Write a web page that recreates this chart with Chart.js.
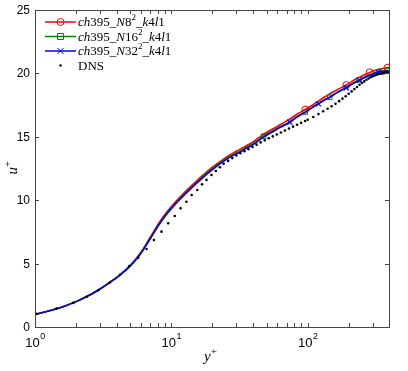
<!DOCTYPE html>
<html>
<head>
<meta charset="utf-8">
<script src="https://cdn.jsdelivr.net/npm/chart.js@4"></script>
<style>
body { margin: 0; background: #fff; }
</style>
</head>
<body>
<canvas id="uplusChart" width="408" height="371"></canvas>
<script>
// legend labels
var names = ["ch395_N8^2_k4l1", "ch395_N16^2_k4l1", "ch395_N32^2_k4l1", "DNS"];

// LES mean velocity profiles, y+ and u+
var lesY = [1, 1.2, 1.44, 1.7, 2, 2.4, 2.9, 3.5, 4.2, 5, 5.9, 7, 8, 9.2, 10.9, 12.9, 15.5, 19.7, 26, 30,
  35, 40, 47.5, 55, 63, 74, 84, 96, 108, 120, 132, 145, 165, 192, 215, 240, 265, 285, 310, 337, 360, 385, 395];
var n8U = [1.0, 1.2, 1.44, 1.7, 2.0, 2.4, 2.9, 3.5, 4.11, 4.86, 5.8, 7.08, 8.11, 9.03, 9.96, 10.76, 11.57, 12.55, 13.48, 13.86,
  14.26, 14.62, 15.2, 15.6, 15.97, 16.4, 16.8, 17.15, 17.5, 17.82, 18.12, 18.38, 18.72, 19.08, 19.42, 19.7, 19.93, 20.08, 20.22, 20.33, 20.4, 20.45, 20.46];
var n16U = [1.0, 1.2, 1.44, 1.7, 2.0, 2.4, 2.9, 3.49, 4.1, 4.84, 5.75, 7.0, 8.01, 8.93, 9.85, 10.65, 11.46, 12.44, 13.37, 13.72,
  14.12, 14.47, 15.05, 15.45, 15.8, 16.2, 16.6, 16.95, 17.32, 17.63, 17.9, 18.12, 18.5, 18.88, 19.22, 19.5, 19.75, 19.9, 20.05, 20.16, 20.2, 20.22, 20.22];
var n32U = [1.0, 1.2, 1.44, 1.7, 2.0, 2.4, 2.9, 3.48, 4.1, 4.82, 5.72, 6.96, 7.96, 8.87, 9.79, 10.58, 11.39, 12.36, 13.3, 13.65,
  14.05, 14.4, 14.98, 15.38, 15.75, 16.15, 16.58, 16.95, 17.3, 17.6, 17.88, 18.12, 18.5, 18.87, 19.2, 19.45, 19.7, 19.85, 20.0, 20.12, 20.16, 20.18, 20.18];

// marker points on each LES curve
var n8MarkY = [96, 192, 285, 385];
var n8MarkU = [17.15, 19.08, 20.08, 20.45];
var n16MarkY = [47.5, 96, 145, 238, 337, 388];
var n16MarkU = [15.05, 16.95, 18.12, 19.5, 20.16, 20.22];
var n32MarkY = [74, 120, 192, 240, 330];
var n32MarkU = [16.15, 17.6, 18.87, 19.45, 20.1];

// DNS Re_tau = 395
var dnsY = [1.03, 1.44, 1.91, 2.39, 2.91, 3.54, 4.2, 4.91, 5.71, 6.58, 7.45, 8.47, 9.48, 10.6, 11.7, 12.9, 14.1, 15.5, 16.8, 18.1,
  19.7, 21.2, 22.7, 24.2, 26.1, 28, 30, 32.1, 34.4, 36.8, 39.4, 42.2, 45.2, 48.4, 51.8, 55.5, 59.4, 63.6, 68.1, 72.9,
  78.1, 83.6, 89.5, 95.8, 100, 110, 120, 130, 140, 150, 160, 170, 180, 190, 200, 210, 220, 230, 240, 250,
  260, 270, 280, 290, 300, 310, 320, 330, 340, 350, 360, 370, 380, 392];
var dnsU = [1.04, 1.45, 1.9, 2.38, 2.9, 3.5, 4.12, 4.8, 5.47, 6.15, 6.86, 7.52, 8.18, 8.75, 9.36, 9.88, 10.41, 10.8, 11.25, 11.6,
  11.99, 12.3, 12.6, 12.88, 13.1, 13.32, 13.52, 13.7, 13.86, 14.02, 14.2, 14.38, 14.56, 14.72, 14.88, 15.03, 15.18, 15.34, 15.5, 15.65,
  15.8, 15.95, 16.1, 16.25, 16.35, 16.56, 16.79, 17.01, 17.21, 17.41, 17.6, 17.81, 18.01, 18.2, 18.39, 18.58, 18.76, 18.93, 19.1, 19.24,
  19.37, 19.5, 19.6, 19.7, 19.78, 19.84, 19.89, 19.94, 19.97, 20.0, 20.02, 20.04, 20.05, 20.05];

// axis ticks
var xMajor = [1, 10, 100];
var yTicks = [0, 5, 10, 15, 20, 25];

function pts(xs, ys) {
  return xs.map(function (v, i) { return { x: v, y: ys[i] }; });
}

var red = "#ff0000", green = "#008000", blue = "#0000ff";
var serif = "'Liberation Serif', 'DejaVu Serif', serif";
var sans = "'Liberation Sans', Arial, sans-serif";

// text with italic letters, upright digits and ^x superscripts
function drawMath(ctx, str, x, y, size, italicLetters) {
  var i = 0;
  while (i < str.length) {
    var ch = str[i];
    if (ch == "^") {
      ctx.font = Math.round(size * 0.7) + "px " + serif;
      ctx.fillText(str[i + 1], x, y - size * 0.38);
      x += ctx.measureText(str[i + 1]).width;
      i += 2;
      continue;
    }
    var it = italicLetters && /[A-Za-z]/.test(ch);
    ctx.font = (it ? "italic " : "") + size + "px " + serif;
    ctx.fillText(ch, x, y);
    x += ctx.measureText(ch).width;
    i++;
  }
  return x;
}

function drawMarker(ctx, style, color, x, y) {
  ctx.strokeStyle = color;
  ctx.lineWidth = 1;
  ctx.beginPath();
  if (style == "circle") {
    ctx.arc(x, y, 3.5, 0, Math.PI * 2);
  } else if (style == "rect") {
    ctx.rect(x - 3, y - 3, 6, 6);
  } else {
    ctx.moveTo(x - 3, y - 3); ctx.lineTo(x + 3, y + 3);
    ctx.moveTo(x + 3, y - 3); ctx.lineTo(x - 3, y + 3);
  }
  ctx.stroke();
}

// MATLAB style box, inward ticks, tick labels, axis titles and legend
var axesBox = {
  id: "axesBox",
  afterDraw: function (chart) {
    var ctx = chart.ctx, a = chart.chartArea;
    var xs = chart.scales.x, ys = chart.scales.y;
    ctx.save();
    ctx.strokeStyle = "#444";
    ctx.lineWidth = 1;
    ctx.strokeRect(Math.round(a.left) + 0.5, Math.round(a.top) + 0.5,
      Math.round(a.right - a.left), Math.round(a.bottom - a.top));

    // y ticks
    ctx.fillStyle = "#000";
    ctx.font = "12px " + sans;
    ctx.textAlign = "right";
    ctx.textBaseline = "middle";
    yTicks.forEach(function (v) {
      var py = Math.round(ys.getPixelForValue(v)) + 0.5;
      ctx.beginPath();
      ctx.moveTo(a.left, py); ctx.lineTo(a.left + 4, py);
      ctx.moveTo(a.right, py); ctx.lineTo(a.right - 4, py);
      ctx.stroke();
      ctx.fillText(String(v), a.left - 5, py);
    });

    // x ticks, major and minor
    xMajor.forEach(function (d) {
      for (var k = 1; k <= 9; k++) {
        var v = k * d;
        if (v > xs.max) break;
        var px = Math.round(xs.getPixelForValue(v)) + 0.5;
        ctx.beginPath();
        ctx.moveTo(px, a.bottom); ctx.lineTo(px, a.bottom - 4);
        ctx.moveTo(px, a.top); ctx.lineTo(px, a.top + 4);
        ctx.stroke();
      }
      // label 10^n
      var n = Math.round(Math.log10(d));
      var cx = xs.getPixelForValue(d);
      ctx.textAlign = "left";
      ctx.textBaseline = "alphabetic";
      ctx.font = "13px " + sans;
      var w1 = ctx.measureText("10").width;
      ctx.font = "9px " + sans;
      var w2 = ctx.measureText(String(n)).width;
      var x0 = cx - (w1 + w2) / 2;
      ctx.font = "13px " + sans;
      ctx.fillText("10", x0, a.bottom + 20);
      ctx.font = "9px " + sans;
      ctx.fillText(String(n), x0 + w1 + 0.5, a.bottom + 12);
    });

    // axis titles
    ctx.textAlign = "left";
    ctx.textBaseline = "alphabetic";
    drawMath(ctx, "y^+", (a.left + a.right) / 2 - 8, a.bottom + 34, 15, true);
    ctx.save();
    ctx.translate(17, (a.top + a.bottom) / 2 + 6);
    ctx.rotate(-Math.PI / 2);
    drawMath(ctx, "u^+", 0, 0, 15, true);
    ctx.restore();

    // legend
    var rows = [22, 36.5, 51, 65.5];
    var cols = [red, green, blue, "#000"];
    var marks = ["circle", "rect", "crossRot", "dot"];
    names.forEach(function (nm, i) {
      var y = rows[i];
      if (marks[i] != "dot") {
        ctx.strokeStyle = cols[i];
        ctx.lineWidth = 1.5;
        ctx.beginPath();
        ctx.moveTo(45, y); ctx.lineTo(76, y);
        ctx.stroke();
        drawMarker(ctx, marks[i], cols[i], 60.5, y);
      } else {
        ctx.fillStyle = "#000";
        ctx.beginPath();
        ctx.arc(60.5, y, 1.2, 0, Math.PI * 2);
        ctx.fill();
      }
      ctx.fillStyle = "#000";
      ctx.textBaseline = "middle";
      drawMath(ctx, nm, 78, y + 1, 13, i < 3);
    });
    ctx.restore();
  }
};

var ctx = document.getElementById("uplusChart");
var myChart = new Chart(ctx, {
  type: "scatter",
  data: {
    datasets: [
      { label: names[3], data: pts(dnsY, dnsU), showLine: false, pointRadius: 1.3,
        pointBackgroundColor: "#000", pointBorderWidth: 0, order: 0 },
      { label: names[2], data: pts(lesY, n32U), showLine: true, borderColor: blue, borderWidth: 1.6,
        tension: 0.4, pointRadius: 0, order: 1 },
      { label: "n32 markers", data: pts(n32MarkY, n32MarkU), showLine: false, pointStyle: "crossRot",
        pointRadius: 3.5, pointBorderColor: blue, pointBorderWidth: 1.2, order: 1 },
      { label: names[1], data: pts(lesY, n16U), showLine: true, borderColor: green, borderWidth: 1.6,
        tension: 0.4, pointRadius: 0, order: 2 },
      { label: "n16 markers", data: pts(n16MarkY, n16MarkU), showLine: false, pointStyle: "rect",
        pointRadius: 3.2, pointBorderColor: green, pointBackgroundColor: "transparent", pointBorderWidth: 1, order: 2 },
      { label: names[0], data: pts(lesY, n8U), showLine: true, borderColor: red, borderWidth: 1.6,
        tension: 0.4, pointRadius: 0, order: 3 },
      { label: "n8 markers", data: pts(n8MarkY, n8MarkU), showLine: false, pointStyle: "circle",
        pointRadius: 3.5, pointBorderColor: red, pointBackgroundColor: "transparent", pointBorderWidth: 1, order: 3 }
    ]
  },
  options: {
    responsive: false,
    animation: false,
    devicePixelRatio: 1,
    layout: { padding: { left: 35, top: 10, right: 19, bottom: 44 } },
    scales: {
      x: { type: "logarithmic", min: 1, max: 395, display: false },
      y: { type: "linear", min: 0, max: 25, display: false }
    },
    plugins: {
      legend: { display: false },
      tooltip: { enabled: false }
    }
  },
  plugins: [axesBox]
});
</script>
</body>
</html>
